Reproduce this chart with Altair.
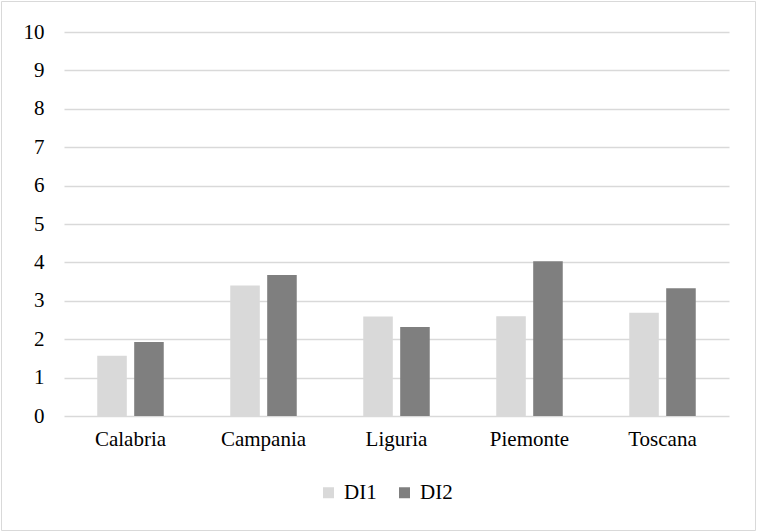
import altair as alt
import pandas as pd

regions = ["Calabria", "Campania", "Liguria", "Piemonte", "Toscana"]
di1 = [1.57, 3.40, 2.59, 2.60, 2.69]
di2 = [1.93, 3.67, 2.32, 4.03, 3.33]
series = ["DI1", "DI2"]
colors = ["#d9d9d9", "#7f7f7f"]
y_ticks = list(range(0, 11))

rows = []
for r, a, b in zip(regions, di1, di2):
    rows.append({"Regione": r, "Serie": "DI1", "Valore": a})
    rows.append({"Regione": r, "Serie": "DI2", "Valore": b})
df = pd.DataFrame(rows)

W, H = 665, 384
FONT = "Liberation Serif"
FS = 21

bars = alt.Chart(df).mark_bar().encode(
    x=alt.X("Regione:N", sort=regions,
            scale=alt.Scale(paddingInner=0.5, paddingOuter=0.25),
            axis=alt.Axis(title=None, labelAngle=0, ticks=False, domain=False,
                          labelFontSize=FS, labelPadding=12, labelColor="#000000",
                          labelFont=FONT, grid=False)),
    xOffset=alt.XOffset("Serie:N", sort=series,
                        scale=alt.Scale(paddingInner=0.2, paddingOuter=0)),
    y=alt.Y("Valore:Q", scale=alt.Scale(domain=[0, 10], nice=False),
            axis=alt.Axis(title=None, values=y_ticks, ticks=False, domain=False,
                          labelOverlap=False,
                          labelFontSize=FS, labelPadding=20, labelColor="#000000",
                          labelFont=FONT, grid=True, gridColor="#d9d9d9",
                          gridWidth=1.5)),
    color=alt.Color("Serie:N", sort=series,
                    scale=alt.Scale(domain=series, range=colors),
                    legend=alt.Legend(title=None, orient="none", direction="horizontal",
                                      legendX=254, legendY=450, symbolType="square",
                                      symbolSize=121, symbolStrokeWidth=0,
                                      labelFontSize=FS, labelFont=FONT,
                                      labelColor="#000000", columnPadding=17,
                                      labelOffset=5)),
)

border = alt.Chart(pd.DataFrame({"a": [0]})).mark_rect(
    fill=None, stroke="#d9d9d9", strokeWidth=1
).encode(
    x=alt.value(-62.5), x2=alt.value(755.5 - 64),
    y=alt.value(-30.5), y2=alt.value(530.5 - 32),
)

chart = alt.layer(border, bars).properties(
    width=W, height=H,
    autosize=alt.AutoSizeParams(type="none"),
    padding={"left": 64, "top": 32, "right": 28, "bottom": 116},
    background="#ffffff",
).configure(font=FONT, view=alt.ViewConfig(stroke=None))

chart.save("out.html", embed_options={"renderer": "svg", "actions": False})
